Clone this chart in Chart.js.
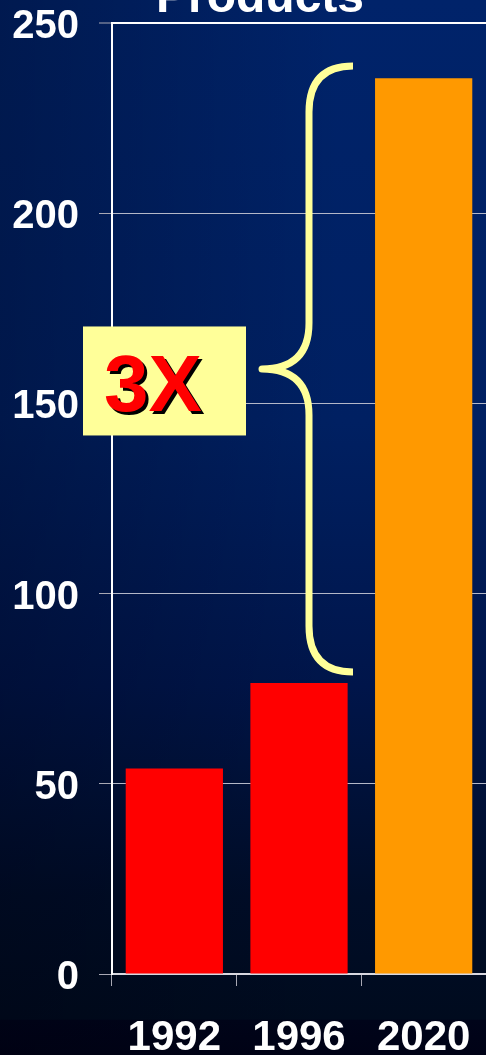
<!DOCTYPE html>
<html>
<head>
<meta charset="utf-8">
<script src="https://cdn.jsdelivr.net/npm/chart.js@4/dist/chart.umd.min.js"></script>
<style>
  html, body { margin:0; padding:0; }
  body {
    width:486px; height:1055px; overflow:hidden;
    background:
      linear-gradient(to right, rgba(0,0,12,0.28), rgba(0,0,0,0) 70%),
      linear-gradient(to bottom, #00236a 0%, #002062 40%, #00154a 65%, #000d28 85%, #000b1e 96.6%, #00041a 96.7%, #000216 100%);
  }
  #wrap { position:relative; width:486px; height:1055px; }
</style>
</head>
<body>
<div id="wrap"><canvas id="chart" width="486" height="1055"></canvas></div>
<script>
const years = ['1992', '1996', '2020'];
const products = [54, 76.5, 235.5];
const barColors = ['#ff0000', '#ff0000', '#ff9900'];
const yMin = 0, yMax = 250, yStep = 50;
const braceRange = [79.4, 238.7];
const braceLabel = '3X';
const titleText = 'Products';

const FONT = '"Liberation Sans", Arial, sans-serif';
const yFont = {family: FONT, size: 40, weight: 'bold', lineHeight: 1};
const xFont = {family: FONT, size: 42, weight: 'bold', lineHeight: 1};

// title (cut off at the top), brace and the "3X" callout
const extras = {
  id: 'extras',
  afterDatasetsDraw(chart){
    const {ctx, scales:{x, y}} = chart;
    ctx.save();

    ctx.fillStyle = '#ffffff';
    ctx.font = 'bold 48px ' + FONT;
    ctx.textAlign = 'center';
    ctx.textBaseline = 'alphabetic';
    ctx.fillText(titleText, 260, 12);

    const yTop = y.getPixelForValue(braceRange[1]);
    const yBot = y.getPixelForValue(braceRange[0]);
    const yMid = (yTop + yBot) / 2;
    const c = x.getPixelForValue(1);
    const xe = c + 54, xv = c + 10, xt = c - 37, r = 46;

    ctx.strokeStyle = '#ffff99';
    ctx.lineWidth = 7;
    ctx.lineCap = 'butt';
    ctx.lineJoin = 'round';
    ctx.beginPath();
    ctx.moveTo(xe, yTop);
    ctx.quadraticCurveTo(xv, yTop, xv, yTop + r);
    ctx.lineTo(xv, yMid - r);
    ctx.quadraticCurveTo(xv, yMid, xt, yMid);
    ctx.quadraticCurveTo(xv, yMid, xv, yMid + r);
    ctx.lineTo(xv, yBot - r);
    ctx.quadraticCurveTo(xv, yBot, xe, yBot);
    ctx.stroke();

    const bw = 163, bh = 109;
    const bx = xt - 16 - bw, by = yMid + 12 - bh / 2;
    ctx.fillStyle = '#ffff99';
    ctx.fillRect(bx, by, bw, bh);

    ctx.font = 'bold 80px ' + FONT;
    ctx.textAlign = 'left';
    ctx.fillStyle = '#000000';
    ctx.fillText(braceLabel, bx + 24, by + 88);
    ctx.fillStyle = '#ff0000';
    ctx.fillText(braceLabel, bx + 21, by + 85);

    ctx.restore();
  }
};

new Chart(document.getElementById('chart'), {
  type: 'bar',
  data: {
    labels: years,
    datasets: [{
      data: products,
      backgroundColor: barColors,
      borderWidth: 0,
      categoryPercentage: 1,
      barPercentage: 0.78
    }]
  },
  options: {
    responsive: false,
    animation: false,
    layout: {padding: {top: 23, left: 12, right: 0, bottom: 0}},
    plugins: {legend: {display: false}, tooltip: {enabled: false}},
    scales: {
      x: {
        grid: {offset: true, drawOnChartArea: false, drawTicks: true, tickLength: 12, tickColor: '#a8a8b4', tickWidth: 1},
        border: {color: '#d8d8e0', width: 2},
        ticks: {color: '#ffffff', font: xFont, padding: 31, maxRotation: 0, autoSkip: false},
        afterFit: s => { s.height = 81; s.paddingLeft = 0; s.paddingRight = 0; }
      },
      y: {
        min: yMin, max: yMax,
        grid: {
          color: c => c.tick && c.tick.value === yMax ? '#ffffff' : '#b4b8c8',
          lineWidth: c => c.tick && c.tick.value === yMax ? 2 : 1,
          tickLength: 13, tickColor: '#a8a8b4', tickWidth: 1
        },
        border: {color: '#ffffff', width: 2},
        ticks: {stepSize: yStep, color: '#ffffff', font: yFont, padding: 20, labelOffset: 4},
        afterFit: s => { s.width = 100; s.paddingTop = 0; s.paddingBottom = 0; }
      }
    }
  },
  plugins: [extras]
});
</script>
</body>
</html>
